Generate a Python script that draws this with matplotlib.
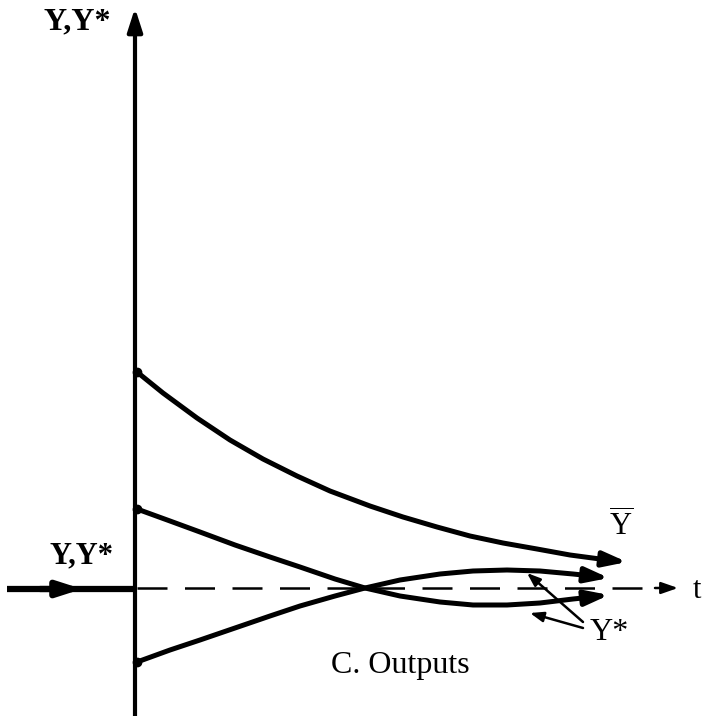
import matplotlib.pyplot as plt

# curve points (pixel coordinates, y grows downwards)
ybar_x = [137, 163, 197, 230, 263, 297, 330, 370, 403, 437, 470, 503, 537, 570, 600]
ybar_y = [372, 393, 418, 440, 459, 476, 491, 506, 517, 527, 536, 543, 549, 555, 559]
ybar_tip = (627, 562)

ystar1_x = [137, 170, 200, 235, 270, 300, 335, 365, 400, 440, 473, 507, 540, 573, 592]
ystar1_y = [509, 521, 532, 545, 557, 567, 579, 588, 596, 602, 605, 605, 603, 599, 597]
ystar1_tip = (609, 595)

ystar2_x = [137, 170, 200, 235, 270, 300, 335, 365, 400, 440, 473, 507, 540, 573, 592]
ystar2_y = [662, 650, 640, 628, 616, 606, 596, 588, 580, 574, 571, 570, 571, 574, 576]
ystar2_tip = (609, 578)

lw = 3.6
plt.rcParams['font.family'] = ['Liberation Serif', 'DejaVu Serif']
plt.rcParams['mathtext.fontset'] = 'custom'
plt.rcParams['mathtext.rm'] = 'Liberation Serif'

fig = plt.figure(figsize=(7.07, 7.16), dpi=100)
ax = fig.add_axes([0, 0, 1, 1])
ax.set_xlim(0, 707)
ax.set_ylim(716, 0)
ax.axis('off')

arrow = dict(arrowstyle='-|>,head_length=1.4,head_width=0.45', color='black', lw=lw,
             shrinkA=0, shrinkB=0)

# vertical axis
ax.annotate('', xy=(135, 8), xytext=(135, 716), arrowprops=dict(arrow, lw=3))
# horizontal dashed t axis
ax.plot([137, 662], [588, 588], color='black', lw=1.8, dashes=(12, 7))
ax.annotate('', xy=(678, 588), xytext=(655, 588),
            arrowprops=dict(arrowstyle='-|>,head_length=1.0,head_width=0.35', color='black',
                            lw=1.8, shrinkA=0, shrinkB=0))
# input arrow on the left
ax.plot([7, 135], [589, 589], color='black', lw=4.5, solid_capstyle='butt')
ax.annotate('', xy=(82, 589), xytext=(40, 589), arrowprops=dict(arrow, lw=4.5))

# curves
for xs, ys, tip in [(ybar_x, ybar_y, ybar_tip), (ystar1_x, ystar1_y, ystar1_tip),
                    (ystar2_x, ystar2_y, ystar2_tip)]:
    ax.plot(xs, ys, color='black', lw=lw, solid_capstyle='round', solid_joinstyle='round')
    ax.annotate('', xy=tip, xytext=(xs[-1], ys[-1]), arrowprops=arrow)
    ax.plot(xs[0], ys[0], 'o', color='black', ms=6)

# pointers from the Y* label
ptr = dict(arrowstyle='-|>,head_length=0.8,head_width=0.3', color='black', lw=1.8,
           shrinkA=0, shrinkB=0)
ax.annotate('', xy=(527, 573), xytext=(583, 622), arrowprops=ptr)
ax.annotate('', xy=(530, 613), xytext=(583, 628), arrowprops=ptr)

# labels
ax.text(43, 22, 'Y,Y*', fontsize=23, fontweight='bold', va='center', ha='left')
ax.text(49, 556, 'Y,Y*', fontsize=22, fontweight='bold', va='center', ha='left')
ax.text(621, 526, r'$\overline{\mathrm{Y}}$', fontsize=22, va='center', ha='center')
ax.text(609, 632, 'Y*', fontsize=23, va='center', ha='center')
ax.text(697, 591, 't', fontsize=22, va='center', ha='center')
ax.text(400, 666, 'C. Outputs', fontsize=23, va='center', ha='center')

plt.savefig('out.png', dpi=100)
